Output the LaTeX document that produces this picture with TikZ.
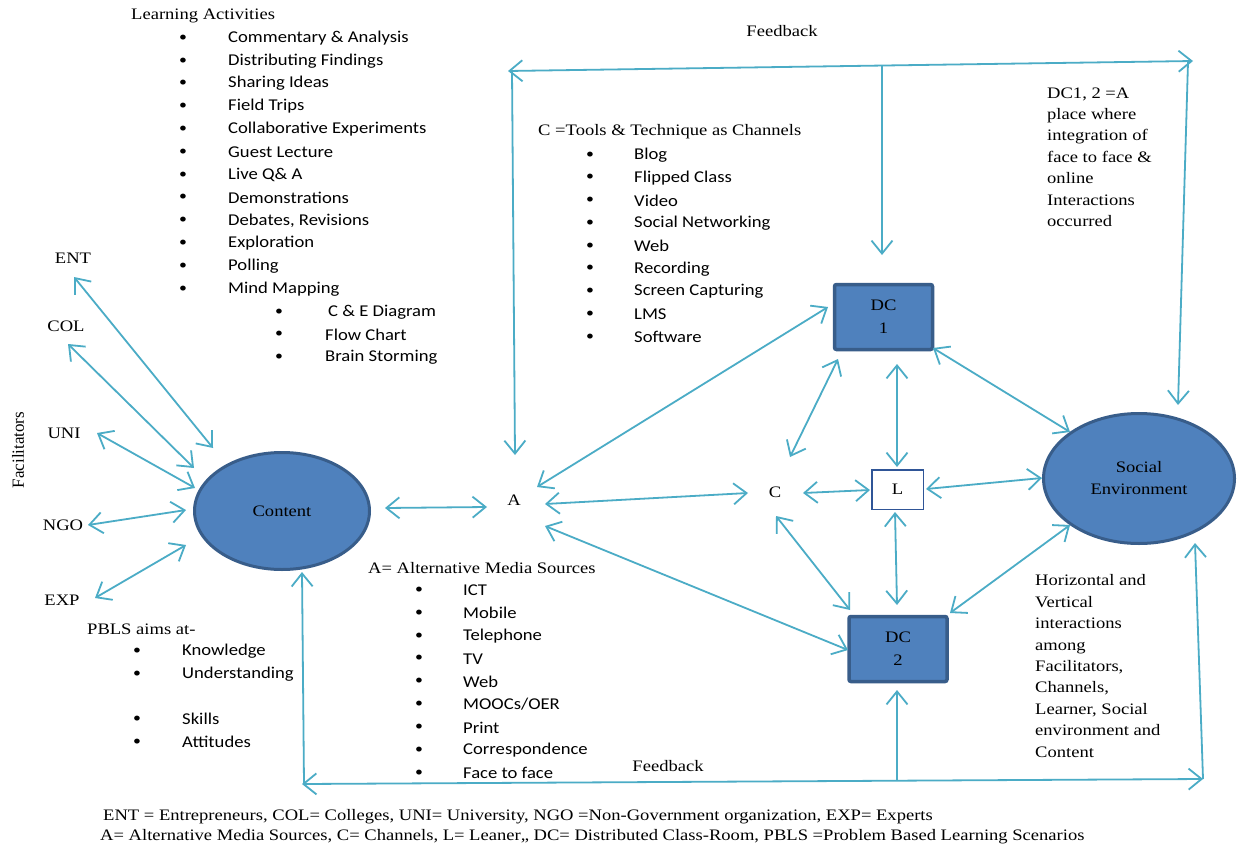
\documentclass[tikz,border=0pt]{standalone}
\usepackage{fontspec}
\setmainfont[FakeStretch=1.16]{Liberation Serif}
\newfontfamily\calfont[FakeStretch=1.13]{Carlito}
\newfontfamily\plainserif{Liberation Serif}
\usetikzlibrary{arrows.meta,calc,shapes.geometric}
\definecolor{arrowc}{HTML}{4BACC6}
\definecolor{boxfill}{HTML}{4F81BD}
\definecolor{boxline}{HTML}{385D8A}
\definecolor{lline}{HTML}{2F5597}
\begin{document}
\begin{tikzpicture}[x=1pt,y=-1pt,
  arr/.style={draw=arrowc, line width=1.8pt, <->, >={Straight Barb[length=13pt,width=21pt]}},
  arrone/.style={draw=arrowc, line width=1.8pt, ->, >={Straight Barb[length=13pt,width=21pt]}},
  txt/.style={font=\fontsize{16}{21.4}\selectfont, inner sep=0pt, anchor=west, align=left},
  itm/.style={font=\calfont\fontsize{16.5}{20}\selectfont, inner sep=0pt, anchor=west},
  bul/.style={font=\calfont\fontsize{14}{20}\selectfont, inner sep=0pt},
  fac/.style={font=\fontsize{16}{19}\selectfont, inner sep=1pt},
  ell/.style={ellipse, fill=boxfill, draw=boxline, line width=3pt, inner sep=0pt, align=center, font=\fontsize{16}{22}\selectfont},
  dcbox/.style={rectangle, rounded corners=2pt, fill=boxfill, draw=boxline, line width=3.5pt, inner sep=0pt, align=center, minimum width=98pt, minimum height=65pt, font=\fontsize{16}{23}\selectfont},
  lbox/.style={rectangle, fill=white, draw=lline, line width=1.5pt, inner sep=0pt, minimum width=51.5pt, minimum height=39.5pt, font=\fontsize{16}{19}\selectfont}
]
\useasboundingbox[fill=white] (0,0) rectangle (1238,848);

% ---------- main nodes ----------
\node[ell, minimum width=175pt, minimum height=117pt] (content) at (282,511) {Content};
\node[ell, minimum width=191pt, minimum height=130pt] (social) at (1139,478.5) {Social\\Environment};
\node[dcbox] (dc1) at (883.5,317) {DC\\1};
\node[dcbox] (dc2) at (898,649) {DC\\2};
\node[lbox] (L) at (897.5,489.5) {L};
\node[fac] (A) at (514,500) {A};
\node[fac] (C) at (775,492) {C};

% ---------- facilitators ----------
\node[fac] (ent) at (73,258) {ENT};
\node[fac] (col) at (66,326) {COL};
\node[fac] (uni) at (64,433) {UNI};
\node[fac] (ngo) at (63,525) {NGO};
\node[fac] (exp) at (62,600) {EXP};
\node[fac, font=\plainserif\fontsize{17}{19}\selectfont, rotate=90] (facil) at (18,450) {Facilitators};

% ---------- lists ----------
\node[txt] (lahead) at (131,16) {Learning Activities};
\foreach \t [count=\i from 0] in {Commentary \& Analysis, Distributing Findings, Sharing Ideas, Field Trips, Collaborative Experiments, Guest Lecture, Live Q\& A, Demonstrations, {Debates, Revisions}, Exploration, Polling, Mind Mapping}
{
  \node[bul] (lab\i) at (183,38+22.8*\i) {\textbullet};
  \node[itm] (la\i) at (228,38+22.8*\i) {\t};
}
\foreach \t [count=\i from 0] in {C \& E Diagram, Flow Chart, Brain Storming}
{
  \node[bul] (mmb\i) at (279,312+22.5*\i) {\textbullet};
}
\node[itm] (mm0) at (328,312) {C \& E Diagram};
\node[itm] (mm1) at (325,334.5) {Flow Chart};
\node[itm] (mm2) at (325,357) {Brain Storming};

\node[txt] (chhead) at (538,132) {C =Tools \& Technique as Channels};
\foreach \t [count=\i from 0] in {Blog, Flipped Class, Video, Social Networking, Web, Recording, Screen Capturing, LMS, Software}
{
  \node[bul] (chb\i) at (590,155+22.75*\i) {\textbullet};
  \node[itm] (ch\i) at (634,155+22.75*\i) {\t};
}

\node[txt] (ahead) at (368,568) {A= Alternative Media Sources};
\foreach \t [count=\i from 0] in {ICT, Mobile, Telephone, TV, Web, MOOCs/OER, Print, Correspondence, Face to face}
{
  \node[bul] (amb\i) at (419,590+22.9*\i) {\textbullet};
  \node[itm] (am\i) at (463,590+22.9*\i) {\t};
}

\node[txt] (phead) at (87,629) {PBLS aims at-};
\node[bul] (pb0) at (137,651) {\textbullet};
\node[itm] (p0) at (182,651) {Knowledge};
\node[bul] (pb1) at (137,674) {\textbullet};
\node[itm] (p1) at (182,674) {Understanding};
\node[bul] (pb2) at (137,719) {\textbullet};
\node[itm] (p2) at (182,719) {Skills};
\node[bul] (pb3) at (137,742) {\textbullet};
\node[itm] (p3) at (182,742) {Attitudes};

% ---------- notes ----------
\node[txt] (dcnote) at (1047,157) {DC1, 2 =A\\place where\\integration of\\face to face \&\\online\\Interactions\\occurred};
\node[txt] (hnote) at (1035,666) {Horizontal and\\Vertical\\interactions\\among\\Facilitators,\\Channels,\\Learner, Social\\environment and\\Content};
\node[fac] (fbtop) at (782,31) {Feedback};
\node[fac] (fbbot) at (668,766) {Feedback};

\node[txt] (foot1) at (103,817) {ENT = Entrepreneurs, COL= Colleges, UNI= University, NGO =Non-Government organization, EXP= Experts};
\node[txt] (foot2) at (100,837) {A= Alternative Media Sources, C= Channels, L= Leaner,, DC= Distributed Class-Room, PBLS =Problem Based Learning Scenarios};

% ---------- facilitator arrows ----------
\draw[arr] ($(ent.center)+(1,19)$) -- ($(content.center)+(-69,-63)$);
\draw[arr] ($(col.center)+(2,18)$) -- ($(content.center)+(-88,-43)$);
\draw[arr] ($(uni.center)+(33,0)$) -- ($(content.center)+(-87,-23)$);
\draw[arr] ($(ngo.center)+(25,0)$) -- ($(content.center)+(-96,-1)$);
\draw[arr] ($(exp.center)+(33,-2)$) -- ($(content.center)+(-96,34)$);

% ---------- central arrows ----------
\draw[arr] ($(content.center)+(103,-3)$) -- ($(A.center)+(-27,7)$);
\draw[arr] ($(A.center)+(31,4)$) -- ($(C.center)+(-27,1)$);
\draw[arr] ($(A.center)+(23,-13)$) -- ($(dc1.center)+(-55.5,-10)$);
\draw[arr] ($(A.center)+(31,26)$) -- ($(dc2.center)+(-50,1)$);
\draw[arr] ($(C.center)+(15,-35)$) -- ($(dc1.center)+(-45.5,42)$);
\draw[arr] ($(C.center)+(1,24)$) -- ($(dc2.center)+(-48,-39)$);
\draw[arr] ($(C.center)+(28,1)$) -- ($(L.center)+(-27.5,0.5)$);
\draw[arr] ($(dc1.center)+(13.5,47)$) -- ($(L.center)+(-0.5,-22.5)$);
\draw[arr] ($(L.center)+(-2.5,22.5)$) -- ($(dc2.center)+(-1,-44)$);
\draw[arr] ($(L.center)+(28.5,-0.5)$) -- ($(social.center)+(-97,-0.5)$);
\draw[arr] ($(dc1.center)+(49.5,31)$) -- ($(social.center)+(-69,-46.5)$);
\draw[arr] ($(dc2.center)+(52,-36)$) -- ($(social.center)+(-69,46.5)$);

% ---------- feedback loops ----------
\coordinate (tl) at (508,71);
\coordinate (tr) at (1193,61);
\coordinate (tj1) at (512,71);
\coordinate (tj2) at (882,66);
\coordinate (tj3) at (1188,62);
\draw[arr] (tl) -- (tr);
\draw[arrone] (tj1) -- ($(A.center)+(1,-45)$);
\draw[arrone] (tj2) -- ($(dc1.center)+(-1.5,-62)$);
\draw[arrone] (tj3) -- ($(social.center)+(39,-73.5)$);

\coordinate (bl) at (302,784);
\coordinate (br) at (1203,779);
\coordinate (bj1) at (304,784);
\coordinate (bj2) at (897,780);
\coordinate (bj3) at (1203,779);
\draw[arr] (bl) -- (br);
\draw[arrone] (bj1) -- ($(content.center)+(20,61)$);
\draw[arrone] (bj2) -- ($(dc2.center)+(-1,41)$);
\draw[arrone] (bj3) -- ($(social.center)+(56,64.5)$);
\end{tikzpicture}
\end{document}
